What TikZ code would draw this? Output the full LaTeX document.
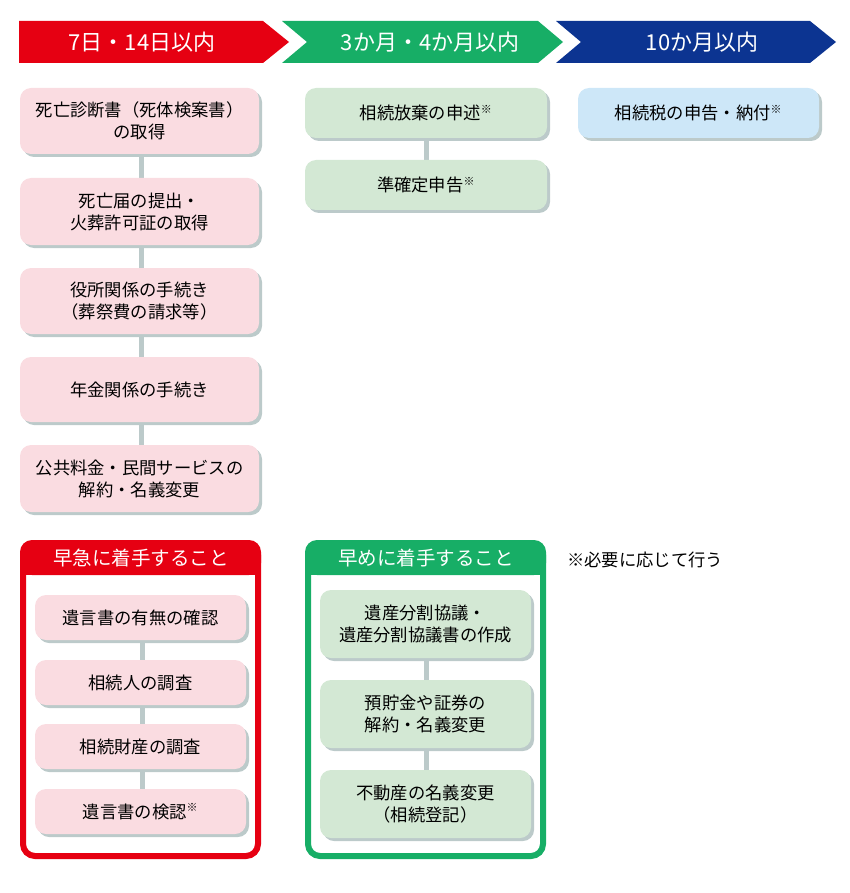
\documentclass[tikz,border=0pt]{standalone}
\usepackage{fontspec}
\setmainfont{Noto Sans CJK JP}
\begin{document}
\begin{tikzpicture}[x=1pt,y=-1pt,
  every node/.style={font=\fontsize{17.3}{22}\selectfont, align=center, inner sep=0pt},
  box/.style={rounded corners=11pt, draw=none},
  pinkbox/.style={box, fill=pinkc},
  greenbox/.style={box, fill=greenc},
  bluebox/.style={box, fill=bluec},
  shad/.style={fill=shadc, rounded corners=11pt},
  conn/.style={draw=shadc, line width=5pt},
  hdr/.style={text=white, font=\fontsize{22}{26}\selectfont}]
\definecolor{redc}{HTML}{E60012}
\definecolor{grnc}{HTML}{17AE66}
\definecolor{bluc}{HTML}{0C3491}
\definecolor{pinkc}{HTML}{FADCE1}
\definecolor{greenc}{HTML}{D3E8D4}
\definecolor{bluec}{HTML}{CDE7F8}
\definecolor{shadc}{HTML}{BCCACA}
\newcommand{\kome}{\textsuperscript{\fontsize{11}{11}\selectfont ※}}
\useasboundingbox (0,0) rectangle (850,893);
% header arrows
\fill[redc] (19,21) -- (263,21) -- (289,42) -- (263,63) -- (19,63) -- cycle;
\fill[grnc] (282,21) -- (538,21) -- (563,42) -- (538,63) -- (282,63) -- (307,42) -- cycle;
\fill[bluc] (556,21) -- (810,21) -- (836,42) -- (810,63) -- (556,63) -- (581,42) -- cycle;
\node[hdr] (h1) at (142,42) {7日・14日以内};
\node[hdr] (h2) at (430,42) {3か月・4か月以内};
\node[hdr] (h3) at (702,42) {10か月以内};
\newcommand{\bx}[6]{%
  \fill[shad] (#3+3,#4+3) rectangle (#5+3,#6+3);
  \path[#1] (#3,#4) rectangle (#5,#6);
  \coordinate (#2) at ({(#3+#5)/2},{(#4+#6)/2});}
\draw[conn] (141,150) -- (141,450);
\bx{pinkbox}{a1}{20}{88}{259}{154}
\bx{pinkbox}{a2}{20}{178}{259}{245}
\bx{pinkbox}{a3}{20}{268}{259}{334}
\bx{pinkbox}{a4}{20}{357}{259}{422}
\bx{pinkbox}{a5}{20}{445}{259}{512}
\node at (a1) {死亡診断書（死体検案書）\\の取得};
\node at (a2) {死亡届の提出・\\火葬許可証の取得};
\node at (a3) {役所関係の手続き\\（葬祭費の請求等）};
\node at (a4) {年金関係の手続き};
\node at (a5) {公共料金・民間サービスの\\解約・名義変更};
\draw[conn] (426,130) -- (426,165);
\bx{greenbox}{b1}{305}{88}{547}{138}
\bx{greenbox}{b2}{305}{160}{547}{210}
\node at (b1) {相続放棄の申述\kome};
\node at (b2) {準確定申告\kome};
\bx{bluebox}{c1}{578}{88}{819}{138}
\node at (c1) {相続税の申告・納付\kome};
% red frame
\draw[redc, line width=6pt, rounded corners=12pt] (23,543) rectangle (258,856);
\fill[redc, rounded corners=12pt] (20,540) -- (261,540) -- (261,575) -- (20,575) -- cycle;
\fill[redc] (20,560) rectangle (261,575);
\node[hdr, font=\fontsize{19.5}{22}\selectfont] (fr) at (141,558) {早急に着手すること};
\draw[conn] (142,630) -- (142,800);
\bx{pinkbox}{d1}{35}{595}{246}{640}
\bx{pinkbox}{d2}{35}{660}{246}{705}
\bx{pinkbox}{d3}{35}{724}{246}{769}
\bx{pinkbox}{d4}{35}{789}{246}{834}
\node at (d1) {遺言書の有無の確認};
\node at (d2) {相続人の調査};
\node at (d3) {相続財産の調査};
\node at (d4) {遺言書の検認\kome};
% green frame
\draw[grnc, line width=6pt, rounded corners=12pt] (308,543) rectangle (543,856);
\fill[grnc, rounded corners=12pt] (305,540) -- (546,540) -- (546,575) -- (305,575) -- cycle;
\fill[grnc] (305,560) rectangle (546,575);
\node[hdr, font=\fontsize{19.5}{22}\selectfont] (fg) at (426,558) {早めに着手すること};
\draw[conn] (426,650) -- (426,780);
\bx{greenbox}{e1}{320}{590}{531}{658}
\bx{greenbox}{e2}{320}{680}{531}{748}
\bx{greenbox}{e3}{320}{770}{531}{838}
\node at (e1) {遺産分割協議・\\遺産分割協議書の作成};
\node at (e2) {預貯金や証券の\\解約・名義変更};
\node at (e3) {不動産の名義変更\\（相続登記）};
\node[anchor=west] (note) at (567,560) {※必要に応じて行う};
\end{tikzpicture}
\end{document}
